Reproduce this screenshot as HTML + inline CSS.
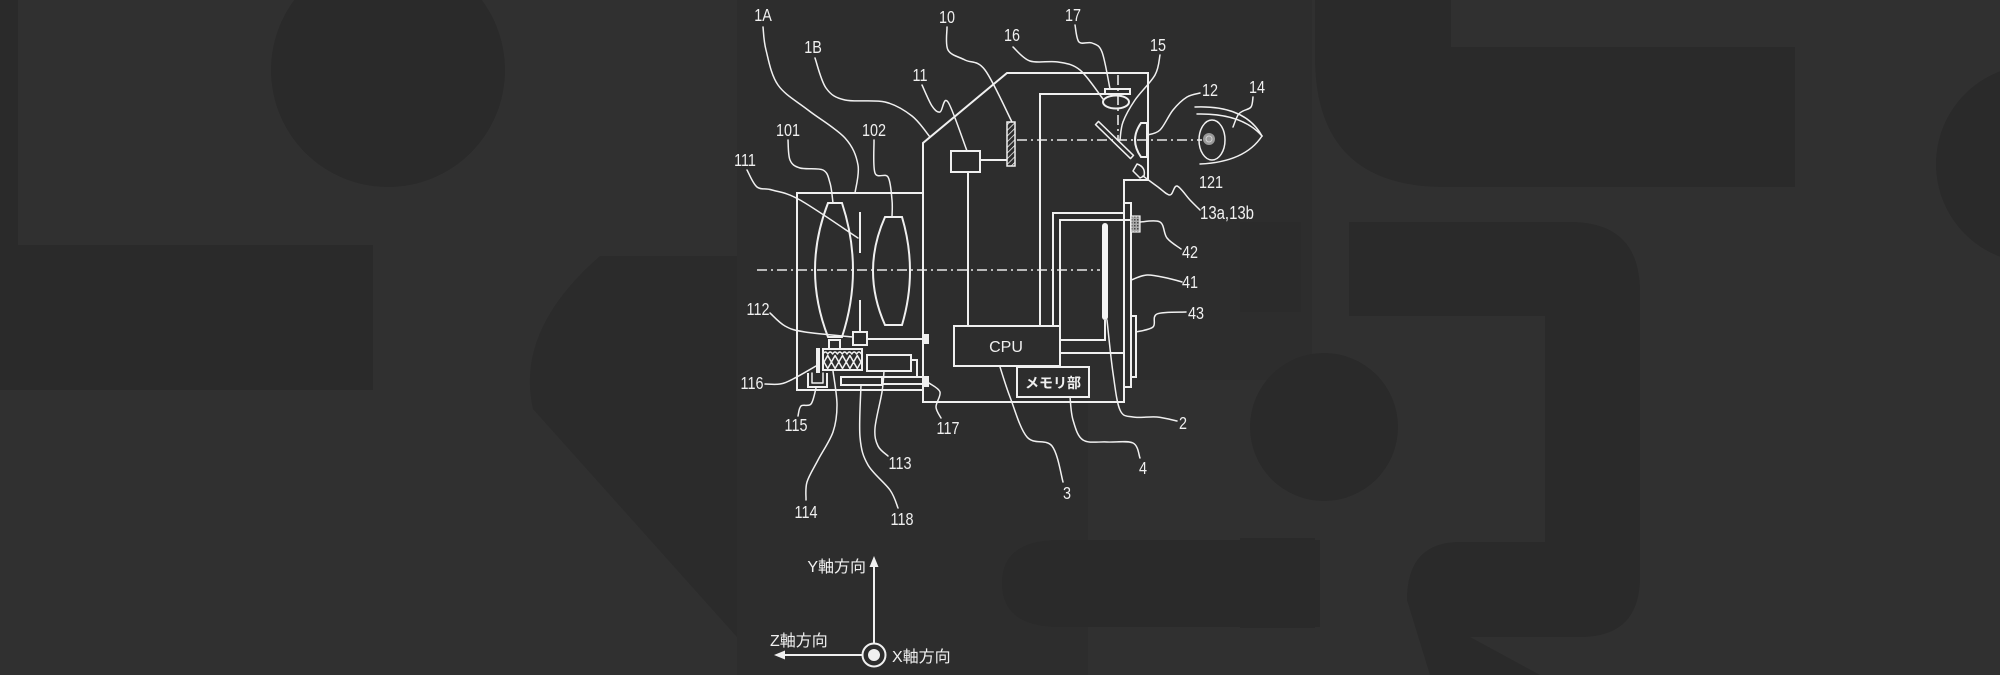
<!DOCTYPE html>
<html><head><meta charset="utf-8"><style>
html,body{margin:0;padding:0;background:#2f2f2f;}
svg{display:block;}
.n{font-family:"Liberation Sans",sans-serif;font-size:18px;fill:#f0f0f0;text-anchor:middle;}
.j{font-family:"Liberation Sans","Noto Sans CJK JP",sans-serif;font-size:16px;fill:#f0f0f0;}
.s{fill:none;stroke:#f0f0f0;stroke-width:2;stroke-linejoin:miter;}
.l{fill:none;stroke:#f0f0f0;stroke-width:1.5;stroke-linejoin:round;stroke-linecap:round;}
.d{fill:none;stroke:#e8e8e8;stroke-width:1.6;stroke-dasharray:10 4 2 4;}
</style></head><body>
<svg width="2000" height="675" viewBox="0 0 2000 675" xmlns="http://www.w3.org/2000/svg">
<defs>
<pattern id="h1" width="4" height="4" patternUnits="userSpaceOnUse" patternTransform="rotate(45)">
<rect width="4" height="4" fill="#2c2c2c"/><line x1="0" y1="0" x2="0" y2="4" stroke="#f0f0f0" stroke-width="1.6"/></pattern>
<pattern id="h2" width="3" height="3" patternUnits="userSpaceOnUse">
<rect width="3" height="3" fill="#aaa"/><rect width="1.5" height="1.5" fill="#444"/></pattern>
</defs>
<!-- background -->
<rect width="2000" height="675" fill="#303030"/>
<rect x="0" y="0" width="18" height="245" fill="#2a2a2a"/>
<rect x="0" y="245" width="373" height="145" fill="#2a2a2a"/>
<circle cx="388" cy="70" r="117" fill="#2a2a2a"/>
<path d="M600,256 H740 V675 H771 L533,409 Q515,330 600,256 Z" fill="#2b2b2b"/>
<rect x="737" y="0" width="575" height="380" fill="#2d2d2d"/>
<rect x="737" y="380" width="351" height="295" fill="#2d2d2d"/>
<path d="M1060,540 H1320 V627 H1060 Q1002,627 1002,583 Q1002,540 1060,540 Z" fill="#2a2a2a"/>
<path d="M1315,0 H1451 V47 H1795 V187 H1445 Q1315,187 1315,57 Z" fill="#2a2a2a"/>
<circle cx="2035" cy="164" r="99" fill="#2a2a2a"/>
<rect x="1240" y="222" width="61" height="90" fill="#2b2b2b"/>
<path d="M1349,222 H1570 Q1640,222 1640,292 V577 Q1640,637 1580,637 H1470 L1540,675 H1430 L1407,600 Q1407,542 1460,542 H1545 V316 H1349 Z" fill="#2a2a2a"/>
<circle cx="1324" cy="427" r="74" fill="#2a2a2a"/>
<rect x="1240" y="538" width="75" height="90" fill="#2a2a2a"/>

<!-- optical axes -->
<line class="d" x1="757" y1="270" x2="1100" y2="270"/>
<line class="d" x1="1017" y1="140" x2="1202" y2="140"/>
<line class="d" x1="1118" y1="75" x2="1118" y2="140"/>

<!-- lens barrel 1A -->
<rect class="s" x="797" y="193" width="126" height="197"/>
<path class="s" d="M828,203 L842,203 Q864,270 842,337 L828,337 Q802,270 828,203 Z"/>
<path class="s" d="M885,217 L902,217 Q918,271 902,325 L885,325 Q861,271 885,217 Z"/>
<line class="s" x1="860" y1="212" x2="860" y2="253"/>
<line class="s" x1="860" y1="300" x2="860" y2="332"/>
<rect class="s" x="853" y="332" width="14" height="13"/>
<line class="s" x1="867" y1="339" x2="924" y2="339"/>
<rect x="923" y="334" width="6" height="10" fill="#f0f0f0"/>
<rect class="s" x="829" y="340" width="11" height="9"/>
<rect class="s" x="823" y="349" width="39" height="21"/>
<path class="l" stroke-width="1.2" d="M823,354 q2.4,-4 4.8,0 q2.4,-4 4.8,0 q2.4,-4 4.8,0 q2.4,-4 4.8,0 q2.4,-4 4.8,0 q2.4,-4 4.8,0 q2.4,-4 4.8,0 q2.4,-4 4.8,0"/>
<path class="l" d="M824,362 L827.7,355.5 L831.4,362 L835.1,355.5 L838.8,362 L842.5,355.5 L846.2,362 L849.9,355.5 L853.6,362 L857.3,355.5 L861,362"/>
<path class="l" d="M824,362 L827.7,368.5 L831.4,362 L835.1,368.5 L838.8,362 L842.5,368.5 L846.2,362 L849.9,368.5 L853.6,362 L857.3,368.5 L861,362"/>
<rect x="816" y="348" width="4" height="25" fill="#f0f0f0"/>
<path class="s" d="M808,373 V387 H827 V373"/>
<path class="l" d="M812,373 V383 H823 V373"/>
<rect class="s" x="867" y="355" width="44" height="16"/>
<path class="s" d="M911,360 H917 V377 H882"/>
<rect class="s" x="841" y="377" width="41" height="8"/>
<line class="s" x1="882" y1="377" x2="924" y2="377"/>
<line class="s" x1="882" y1="384" x2="924" y2="384"/>
<rect x="923" y="376" width="6" height="11" fill="#f0f0f0"/>

<!-- body 1B -->
<path class="s" d="M923,402 V143 L1007,73 H1148 V180 H1124 V402 Z"/>
<path class="s" d="M1040,326 V94 H1108"/>
<rect class="s" x="951" y="151" width="29" height="21"/>
<line class="s" x1="980" y1="160" x2="1007" y2="160"/>
<line class="s" x1="968" y1="172" x2="968" y2="326"/>
<rect x="1007" y="122" width="8" height="44" fill="url(#h1)" stroke="#f0f0f0" stroke-width="1.5"/>
<rect class="s" x="1105" y="89" width="25" height="5"/>
<ellipse class="s" cx="1116" cy="102" rx="13" ry="6.5"/>
<polygon class="l" points="1098.5,121.4 1133.5,155.4 1130.5,158.6 1095.5,124.6"/>
<path class="s" d="M1147,123 L1141,123 Q1129,140 1141,157 L1147,157 Z"/>
<path class="l" d="M1133,171 L1137,164 Q1146,167 1144,176 L1140,178 Z"/>
<!-- eye -->
<path class="l" d="M1195,107 Q1245,105 1262,136"/>
<path class="l" d="M1197,114 Q1242,113 1262,136"/>
<path class="l" d="M1200,164 Q1245,162 1262,136"/>
<ellipse class="l" cx="1212" cy="140" rx="13" ry="20"/>
<circle cx="1209" cy="139" r="6" fill="#9a9a9a"/>
<circle cx="1209" cy="139" r="3" fill="none" stroke="#d0d0d0" stroke-width="1"/>

<!-- CPU / sensor -->
<rect class="s" x="954" y="326" width="106" height="40"/>
<text x="1006" y="352" font-family="Liberation Sans" font-size="16" fill="#f0f0f0" text-anchor="middle">CPU</text>
<rect class="s" x="1017" y="367" width="72" height="30"/>
<text x="1053" y="388" font-family="'Liberation Sans','Noto Sans CJK JP',sans-serif" font-size="14" font-weight="bold" fill="#f0f0f0" text-anchor="middle">メモリ部</text>
<path class="s" d="M1053,326 V213 H1124"/>
<path class="s" d="M1060,340 V220 H1131"/>
<path class="s" d="M1060,340 H1105 V320"/>
<line class="s" x1="1060" y1="353" x2="1124" y2="353"/>
<rect x="1102" y="223" width="6" height="97" rx="3" fill="#f4f4f4"/>
<rect class="s" x="1124" y="203" width="7" height="184"/>
<rect x="1131" y="216" width="9" height="16" fill="url(#h2)" stroke="#f0f0f0" stroke-width="1.2"/>
<rect class="s" x="1131" y="316" width="5" height="61"/>

<!-- leaders -->
<g class="l" id="leaders">
<polyline points="763,27 766,50 778,85 808,110 845,138 858,165 855,193"/>
<polyline points="815,58 826,88 845,100 885,102 912,116 930,137"/>
<polyline points="947,27 948,50 965,60 985,70 1012,122"/>
<polyline points="922,85 932,106 940,112 948,102 967,151"/>
<polyline points="1013,47 1030,61 1058,62 1080,70 1103,99"/>
<polyline points="1075,25 1079,42 1092,43 1102,52 1110,89"/>
<polyline points="1160,55 1155,75 1135,100 1123,122 1120,140"/>
<polyline points="1147,135 1160,130 1173,110 1187,97 1200,93"/>
<polyline points="1253,97 1251,107 1243,111 1238,115 1233,127"/>
<polyline points="1143,176 1158,187 1170,195 1177,186 1190,200 1200,210"/>
<polyline points="788,140 790,160 800,168 823,170 830,183 833,203"/>
<polyline points="874,140 875,173 888,177 892,200 892,217"/>
<polyline points="747,170 757,187 772,190 800,200 858,238"/>
<polyline points="770,313 785,326 805,332 853,337"/>
<polyline points="765,384 780,384 793,379 816,366"/>
<polyline points="798,416 801,406 811,404 816,388"/>
<polyline points="806,500 807,482 818,460 833,432 837,405 833,371"/>
<polyline points="898,508 890,490 868,465 860,437 861,385"/>
<polyline points="888,456 878,446 875,428 882,392 884,371"/>
<polyline points="941,418 936,407 940,392 929,383"/>
<polyline points="1000,367 1010,397 1027,437 1052,446 1063,482"/>
<polyline points="1070,397 1073,420 1083,440 1107,442 1133,443 1140,458"/>
<polyline points="1107,320 1113,373 1120,410 1133,417 1157,417 1177,421"/>
<polyline points="1136,332 1153,327 1157,314 1186,312"/>
<polyline points="1131,280 1147,275 1167,278 1182,282"/>
<polyline points="1140,222 1160,222 1167,238 1181,249"/>
</g>

<!-- labels -->
<text class="n" transform="translate(763,21) scale(0.8,1)">1A</text>
<text class="n" transform="translate(813,53) scale(0.8,1)">1B</text>
<text class="n" transform="translate(947,23) scale(0.8,1)">10</text>
<text class="n" transform="translate(920,81) scale(0.8,1)">11</text>
<text class="n" transform="translate(1012,41) scale(0.8,1)">16</text>
<text class="n" transform="translate(1073,21) scale(0.8,1)">17</text>
<text class="n" transform="translate(1158,51) scale(0.8,1)">15</text>
<text class="n" transform="translate(1210,96) scale(0.8,1)">12</text>
<text class="n" transform="translate(1257,93) scale(0.8,1)">14</text>
<text class="n" transform="translate(1211,188) scale(0.8,1)">121</text>
<text class="n" transform="translate(1227,219) scale(0.83,1)">13a,13b</text>
<text class="n" transform="translate(788,136) scale(0.8,1)">101</text>
<text class="n" transform="translate(874,136) scale(0.8,1)">102</text>
<text class="n" transform="translate(745,166) scale(0.8,1)">111</text>
<text class="n" transform="translate(758,315) scale(0.8,1)">112</text>
<text class="n" transform="translate(752,389) scale(0.8,1)">116</text>
<text class="n" transform="translate(796,431) scale(0.8,1)">115</text>
<text class="n" transform="translate(806,518) scale(0.8,1)">114</text>
<text class="n" transform="translate(902,525) scale(0.8,1)">118</text>
<text class="n" transform="translate(900,469) scale(0.8,1)">113</text>
<text class="n" transform="translate(948,434) scale(0.8,1)">117</text>
<text class="n" transform="translate(1067,499) scale(0.8,1)">3</text>
<text class="n" transform="translate(1143,474) scale(0.8,1)">4</text>
<text class="n" transform="translate(1183,429) scale(0.8,1)">2</text>
<text class="n" transform="translate(1190,258) scale(0.8,1)">42</text>
<text class="n" transform="translate(1190,288) scale(0.8,1)">41</text>
<text class="n" transform="translate(1196,319) scale(0.8,1)">43</text>

<!-- axes -->
<line class="s" x1="874" y1="643" x2="874" y2="563"/>
<polygon points="874,556 869.5,567 878.5,567" fill="#f0f0f0"/>
<line class="s" x1="862" y1="655" x2="782" y2="655"/>
<polygon points="774,655 785,650.5 785,659.5" fill="#f0f0f0"/>
<circle cx="874" cy="655" r="11.5" fill="none" stroke="#f0f0f0" stroke-width="2"/>
<circle cx="874" cy="655" r="6" fill="#f0f0f0"/>
<text class="j" x="866" y="572" text-anchor="end">Y軸方向</text>
<text class="j" x="770" y="646">Z軸方向</text>
<text class="j" x="892" y="662">X軸方向</text>
</svg>
<script>
(function(){
var NS="http://www.w3.org/2000/svg";
var g=document.getElementById("leaders");
if(!g)return;
var pls=g.querySelectorAll("polyline");
for(var k=0;k<pls.length;k++){
var pl=pls[k];
var nums=pl.getAttribute("points").trim().split(/[\s,]+/).map(Number);
var p=[];for(var i=0;i<nums.length;i+=2)p.push([nums[i],nums[i+1]]);
var d="M"+p[0][0]+","+p[0][1];
for(var i=0;i<p.length-1;i++){
var p0=p[i-1]||p[i],p1=p[i],p2=p[i+1],p3=p[i+2]||p[i+1];
var c1=[p1[0]+(p2[0]-p0[0])/6,p1[1]+(p2[1]-p0[1])/6];
var c2=[p2[0]-(p3[0]-p1[0])/6,p2[1]-(p3[1]-p1[1])/6];
d+=" C"+c1[0].toFixed(1)+","+c1[1].toFixed(1)+" "+c2[0].toFixed(1)+","+c2[1].toFixed(1)+" "+p2[0]+","+p2[1];
}
var path=document.createElementNS(NS,"path");
path.setAttribute("d",d);
g.replaceChild(path,pl);
}
})();
</script>
</body></html>
